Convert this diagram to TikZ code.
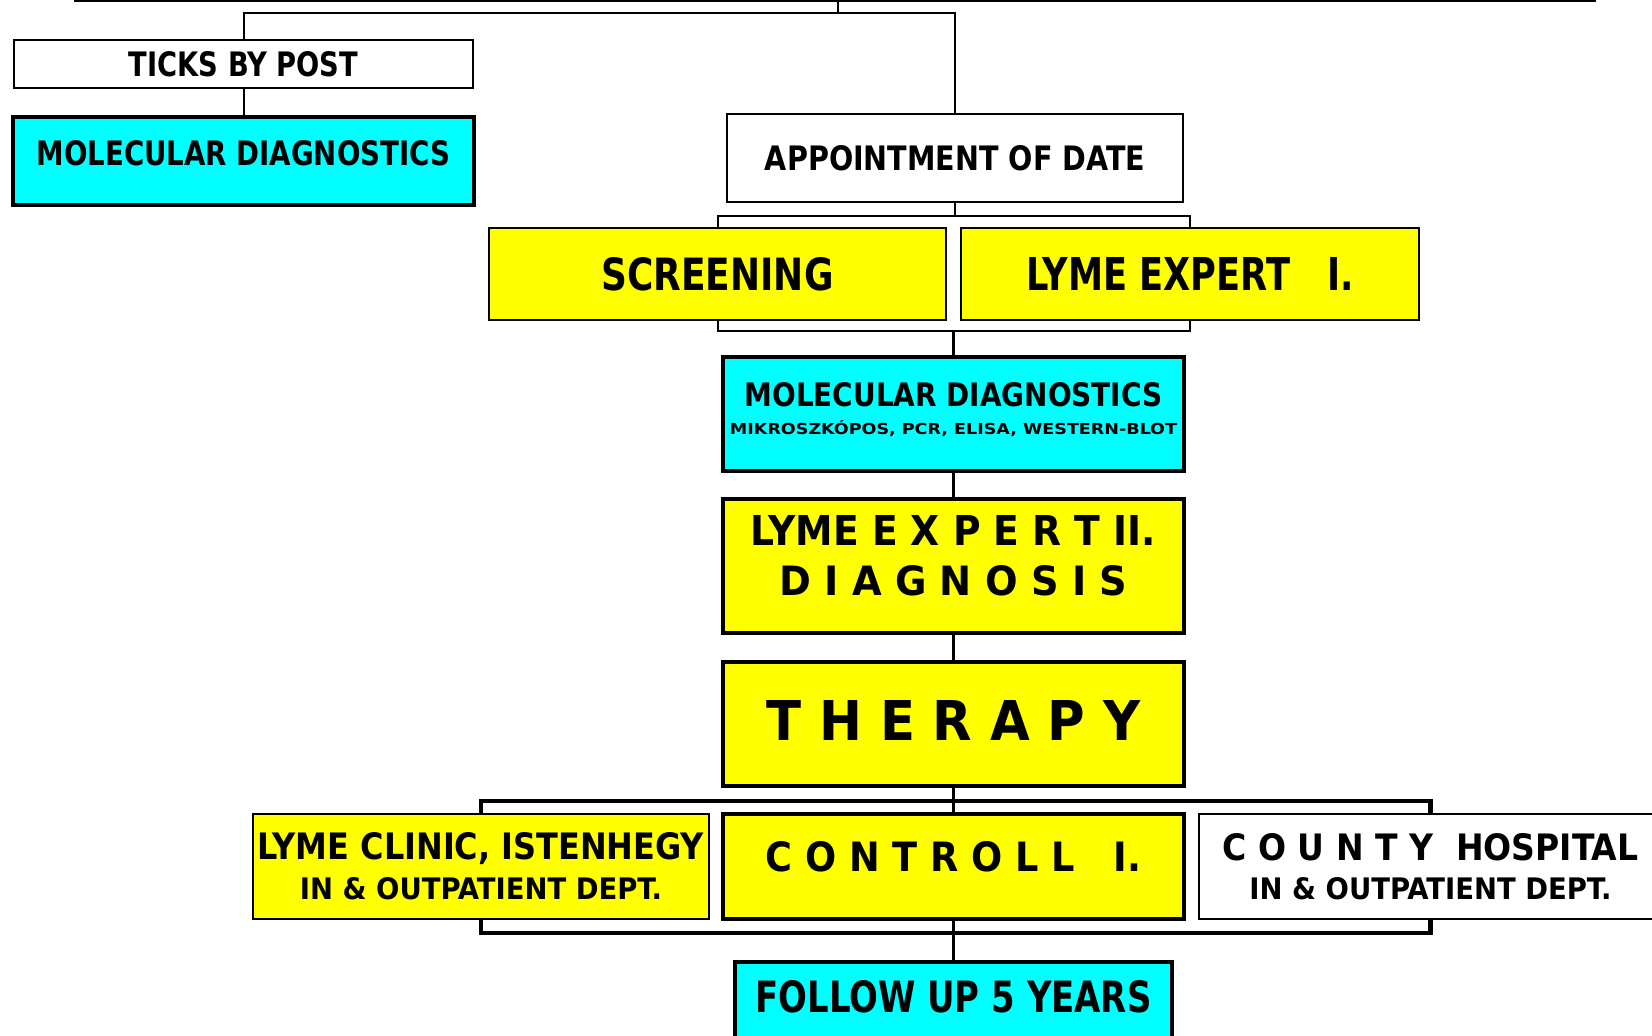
\documentclass[tikz,border=0pt]{standalone}
\usepackage{fontspec}
\setmainfont{DejaVu Sans Condensed}[BoldFont={DejaVu Sans Condensed Bold}]
\usepackage{graphicx}
\definecolor{lymecyan}{RGB}{0,255,255}
\definecolor{lymeyellow}{RGB}{255,255,0}
\newcommand{\boxtxt}[3]{\resizebox{#1pt}{#2pt}{\bfseries #3}}

\begin{document}
\begin{tikzpicture}[x=1pt, y=-1pt,
	box/.style={draw, line width=2pt, inner sep=0pt, outer sep=0pt, anchor=north west, align=center},
	heavy/.style={box, line width=4.5pt},
	dims/.style 2 args={minimum width=#1pt, minimum height=#2pt},
	link/.style={line width=2pt},
	bus/.style={line width=4.5pt}]
	\useasboundingbox (0,0) rectangle (1652,1036);
	\fill[white] (0,0) rectangle (1652,1036);

	\node[box, dims={459}{48}] (ticks) at (14,40) {\boxtxt{229}{25}{TICKS BY POST}};
	\node[heavy, fill=lymecyan, dims={461}{88}] (mol) at (13,117) {\boxtxt{414}{25}{MOLECULAR DIAGNOSTICS}\\[4pt]};
	\node[box, dims={456}{88}] (appt) at (727,114) {\boxtxt{380}{25}{APPOINTMENT OF DATE}};
	\node[box, fill=lymeyellow, dims={457}{92}] (screen) at (489,228) {\boxtxt{232}{33}{SCREENING}};
	\node[box, fill=lymeyellow, dims={458}{92}] (lymeone) at (961,228) {\boxtxt{327}{33}{LYME EXPERT \ \ I.}};
	\node[heavy, fill=lymecyan, dims={461}{114}] (molpcr) at (723,357) {\boxtxt{418}{24}{MOLECULAR DIAGNOSTICS}\\[12pt]\boxtxt{447}{14}{MIKROSZKÓPOS, PCR, ELISA, WESTERN-BLOT}\\[-1pt]};
	\node[heavy, fill=lymeyellow, dims={461}{134}] (lymetwo) at (723,499) {\boxtxt{405}{30}{LYME E X P E R T II.}\\[19pt]\boxtxt{348}{30}{D I A G N O S I S}\\[10pt]};
	\node[heavy, fill=lymeyellow, dims={461}{124}] (therapy) at (723,662) {\boxtxt{374}{40}{T H E R A P Y}\\[-4pt]};
	\node[box, fill=lymeyellow, dims={456}{105}] (clinic) at (253,814) {\boxtxt{446}{27}{LYME CLINIC, ISTENHEGY}\\[12pt]\boxtxt{362}{22}{IN \& OUTPATIENT DEPT.}};
	\node[heavy, fill=lymeyellow, dims={461}{105}] (controll) at (723,814) {\boxtxt{375}{30}{C O N T R O L L \ \ I.}\\[8pt]};
	\node[box, dims={463}{105}] (county) at (1199,814) {\boxtxt{416}{27}{C O U N T Y \ HOSPITAL}\\[15pt]\boxtxt{362}{22}{IN \& OUTPATIENT DEPT.}};
	\node[heavy, fill=lymecyan, dims={437}{90}] (follow) at (735,962) {\boxtxt{396}{32}{FOLLOW UP 5 YEARS}\\[10pt]};

	\coordinate (topl) at (74,1);
	\coordinate (topr) at (1596,1);
	\coordinate (topm) at (838,1);
	\coordinate (split) at (838,13);
	\coordinate (busa) at (955,216);
	\coordinate (busb) at (955,331);
	\coordinate (busc) at (953.5,801);
	\coordinate (busd) at (953.5,933);

	\draw[link] (topl) -- (topr);
	\draw[link] (topm) -- (split);
	\draw[link] (ticks.north) |- (split) -| (appt.north);
	\draw[link] (ticks.south) -- (mol.north);
	\draw[link] (appt.south) -- (busa);
	\draw[link] (screen.north) |- (busa) -| (lymeone.north);
	\draw[link] (screen.south) |- (busb) -| (lymeone.south);
	\draw[link, line width=3pt] (busb) -| (molpcr.north);
	\draw[link, line width=3pt] (molpcr.south) -- (lymetwo.north);
	\draw[link, line width=3pt] (lymetwo.south) -- (therapy.north);
	\draw[link, line width=3pt] (therapy.south) -- (busc) -- (controll.north);
	\draw[bus] (clinic.north) |- (busc) -| (county.north);
	\draw[bus] (clinic.south) |- (busd) -| (county.south);
	\draw[link, line width=3pt] (controll.south) -- (busd) -- (follow.north);
\end{tikzpicture}
\end{document}
